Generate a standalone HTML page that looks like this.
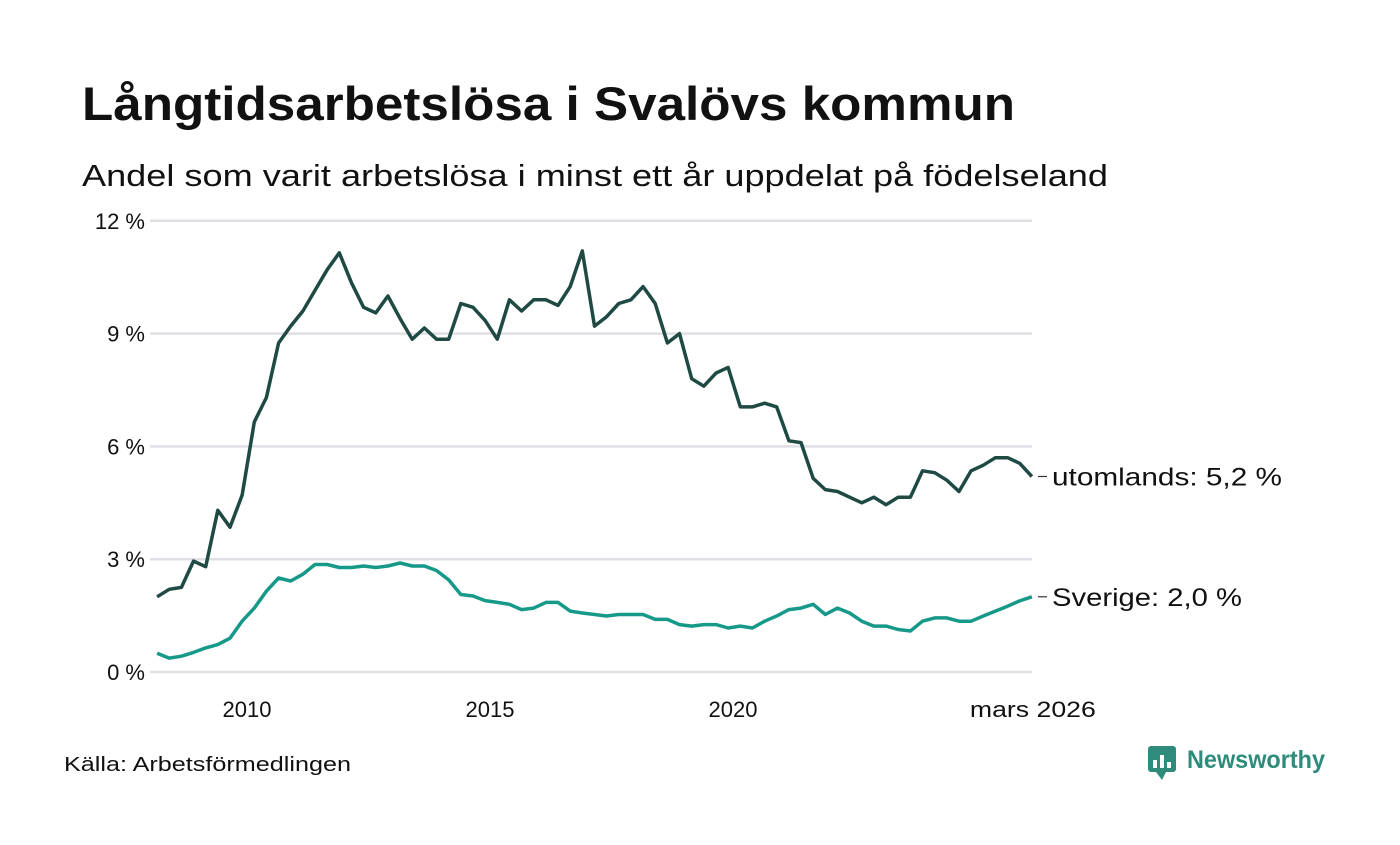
<!DOCTYPE html>
<html><head><meta charset="utf-8"><style>
body{margin:0;background:#fff;width:1400px;height:840px;overflow:hidden;font-family:"Liberation Sans","DejaVu Sans",sans-serif;}
</style></head><body>
<svg width="1400" height="840" xmlns="http://www.w3.org/2000/svg">
<text x="82" y="120" font-size="47" font-weight="bold" fill="#111" textLength="933" lengthAdjust="spacingAndGlyphs">Långtidsarbetslösa i Svalövs kommun</text>
<text x="82" y="186" font-size="31" fill="#111" textLength="1026" lengthAdjust="spacingAndGlyphs">Andel som varit arbetslösa i minst ett år uppdelat på födelseland</text>
<g id="grid"></g>
<g id="yt"></g>
<g id="xt"></g>
<g id="lines"></g>
<text x="64" y="771" font-size="20" fill="#111" textLength="287" lengthAdjust="spacingAndGlyphs">Källa: Arbetsförmedlingen</text>
<g>
<rect x="1148" y="746" width="28" height="26" rx="3" fill="#2f8b7c"/>
<path d="M1156 772 L1162 780 L1166 772Z" fill="#2f8b7c"/>
<rect x="1153" y="760" width="4" height="8" fill="#fff"/><rect x="1160" y="755" width="4" height="13" fill="#fff"/><rect x="1167" y="762" width="4" height="6" fill="#fff"/>
<text x="1187" y="768" font-size="25" font-weight="bold" fill="#2f8b7c" textLength="138" lengthAdjust="spacingAndGlyphs">Newsworthy</text>
</g>
</svg>
<script>
const startYear = 2008.15;
const stepYears = 0.25;
const utomlands = [2.0,2.2,2.25,2.95,2.8,4.3,3.85,4.7,6.65,7.3,8.75,9.2,9.6,10.15,10.7,11.15,10.35,9.7,9.55,10.0,9.4,8.85,9.15,8.85,8.85,9.8,9.7,9.35,8.85,9.9,9.6,9.9,9.9,9.75,10.25,11.2,9.2,9.45,9.8,9.9,10.25,9.8,8.75,9.0,7.8,7.6,7.95,8.1,7.05,7.05,7.15,7.05,6.15,6.1,5.15,4.85,4.8,4.65,4.5,4.65,4.45,4.65,4.65,5.35,5.3,5.1,4.8,5.35,5.5,5.7,5.7,5.55,5.2];
const sverige = [0.5,0.37,0.42,0.52,0.64,0.73,0.9,1.35,1.7,2.15,2.5,2.42,2.6,2.86,2.86,2.78,2.78,2.82,2.78,2.82,2.9,2.82,2.82,2.7,2.45,2.06,2.02,1.9,1.85,1.8,1.66,1.7,1.85,1.85,1.62,1.57,1.53,1.49,1.53,1.53,1.53,1.4,1.4,1.26,1.22,1.26,1.26,1.17,1.22,1.17,1.35,1.49,1.66,1.7,1.8,1.53,1.7,1.57,1.35,1.22,1.22,1.13,1.09,1.35,1.44,1.44,1.35,1.35,1.49,1.62,1.75,1.89,2.0];
const yTicks = [0,3,6,9,12];
const yTickLabels = ["0 %","3 %","6 %","9 %","12 %"];
const xTicks = [2010,2015,2020,2026.17];
const xTickLabels = ["2010","2015","2020","mars 2026"];
const seriesNames = ["utomlands","Sverige"];
const endLabels = ["utomlands: 5,2 %","Sverige: 2,0 %"];

const NS="http://www.w3.org/2000/svg";
const xs = t => 247 + (t-2010)*48.6;
const ys = v => 672 - v*37.6;
function mk(tag, attrs, parent){const e=document.createElementNS(NS,tag);for(const k in attrs)e.setAttribute(k,attrs[k]);parent.appendChild(e);return e;}
const grid=document.getElementById('grid'), yt=document.getElementById('yt'), xt=document.getElementById('xt'), lines=document.getElementById('lines');
yTicks.forEach((v,i)=>{
  const l=mk('line',{x1:150,x2:1032,y1:ys(v),y2:ys(v),stroke:'#dfdfe5','stroke-width':2.5},grid);
  
  
  const t=mk('text',{x:145,y:ys(v)+8,'font-size':22,'text-anchor':'end',fill:'#111'},yt);
  t.textContent=yTickLabels[i];
  
  
});
xTicks.forEach((v,i)=>{
  const t=mk('text',{x:xs(v),y:717,'font-size':22,'text-anchor':'middle',fill:'#111'},xt);
  t.textContent=xTickLabels[i];
  if(xTickLabels[i].length>6){t.setAttribute('textLength',126);t.setAttribute('lengthAdjust','spacingAndGlyphs');}
  
  
});
const colors=['#1f4a43','#17998a'];
const labelLens=[230,190];
[utomlands,sverige].forEach((arr,s)=>{
  const d=arr.map((v,i)=>(i?'L':'M')+xs(startYear+i*stepYears).toFixed(1)+' '+ys(v).toFixed(1)).join(' ');
  const p=mk('path',{d:d,fill:'none',stroke:colors[s],'stroke-width':3.5,'stroke-linejoin':'round'},lines);
  
  
  const last=arr[arr.length-1], ly=ys(last);
  const ll=mk('line',{x1:1038,x2:1047,y1:ly,y2:ly,stroke:'#333','stroke-width':1.2},lines);
  
  
  const t=mk('text',{x:1052,y:ly+9,'font-size':25,fill:'#111',textLength:labelLens[s],lengthAdjust:'spacingAndGlyphs'},lines);
  t.textContent=endLabels[s];
  
  
});
</script>
</body></html>
